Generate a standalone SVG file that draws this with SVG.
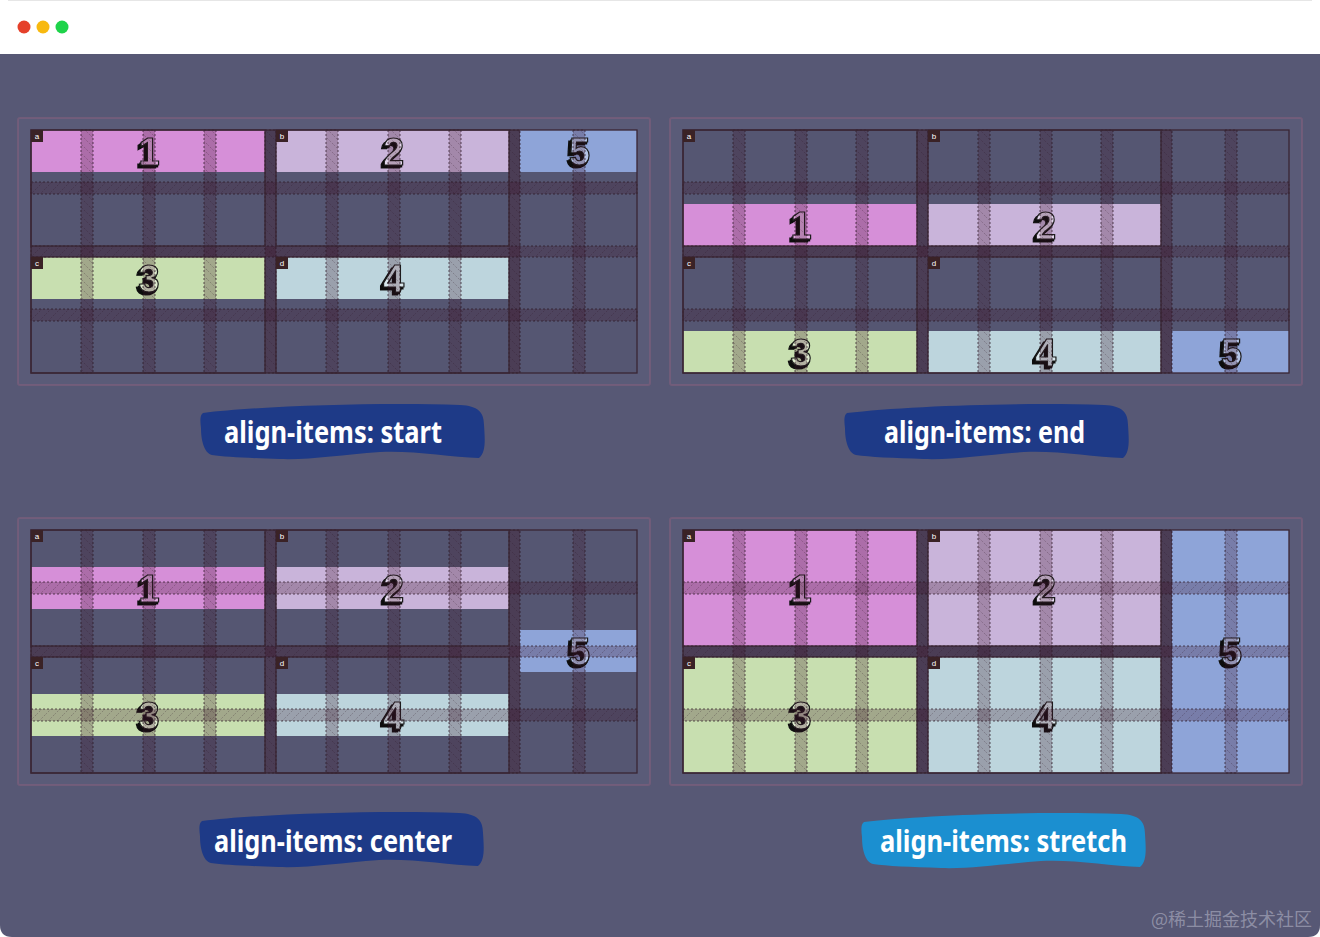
<svg xmlns="http://www.w3.org/2000/svg" xmlns:xlink="http://www.w3.org/1999/xlink" width="1320" height="937" viewBox="0 0 1320 937">
<style>
.cont{fill:#5a5b78;stroke:#8a5f7e;stroke-opacity:.5;stroke-width:2}
.gridbg{fill:#555672}
.vs{fill:url(#hv);stroke:#2a1620;stroke-opacity:.7;stroke-width:1;stroke-dasharray:2 2}
.hs{fill:url(#hh);stroke:#2a1620;stroke-opacity:.7;stroke-width:1;stroke-dasharray:2 2}
.agap{fill:#3c1c2c;fill-opacity:.16}
.area{fill:none;stroke:#3a2634;stroke-width:1.3}
.tag{fill:#3a2226}
.tagt{font-family:"Liberation Sans",Arial,sans-serif;font-size:8px;fill:#fff;text-anchor:middle}
.num{font-family:"Liberation Sans",Arial,sans-serif;font-weight:700;font-size:38px;text-anchor:middle;stroke:#1a1a1a;stroke-width:1.2;filter:url(#d3)}
.lbl{font-family:"Noto Sans",sans-serif;font-weight:700;font-size:31px;fill:#fff;text-anchor:middle}
.i1{fill:#d68fd8}.f1{fill:#e2abe3}
.i2{fill:#c9b4da}.f2{fill:#e2d6ec}
.i3{fill:#c8dfb0}.f3{fill:#dfeccf}
.i4{fill:#bdd5dd}.f4{fill:#d9e8ed}
.i5{fill:#8ea4d8}.f5{fill:#b4c3e6}
</style>
<defs>
<filter id="d3" x="-30%" y="-30%" width="160%" height="160%">
<feOffset in="SourceAlpha" dx="-1.5" dy="1.5" result="o1"/>
<feOffset in="SourceAlpha" dx="-3" dy="3" result="o2"/>
<feMerge result="m"><feMergeNode in="o2"/><feMergeNode in="o1"/></feMerge>
<feFlood flood-color="#0e0e0e"/>
<feComposite in2="m" operator="in" result="sh"/>
<feMerge><feMergeNode in="sh"/><feMergeNode in="SourceGraphic"/></feMerge>
</filter>
<pattern id="hv" patternUnits="userSpaceOnUse" width="9" height="9">
<rect width="9" height="9" fill="#3c1428" fill-opacity=".27"/>
<path d="M-2,-2 L11,11" stroke="#2a1020" stroke-opacity=".3" stroke-width="0.8" stroke-dasharray="2 1.5"/>
</pattern>
<pattern id="hh" patternUnits="userSpaceOnUse" width="9" height="9">
<rect width="9" height="9" fill="#3c1428" fill-opacity=".27"/>
<path d="M-2,11 L11,-2" stroke="#2a1020" stroke-opacity=".3" stroke-width="0.8" stroke-dasharray="2 1.5"/>
</pattern>
<path id="blob" d="M2,10 C59,3 179,-1 259,2 C277,3 283,9 283,22 C284,37 285,49 278,55 C249,54 209,47 179,49 C139,52 109,57 79,56 C49,55 24,54 11,52 C3,50 0,37 0,25 C-1,17 -1,12 2,10 Z"/>
<rect id="cont" class="cont" x="18" y="118" width="632" height="267" rx="2"/>
<rect id="gbg" class="gridbg" x="31" y="130" width="606" height="243"/>
<g id="ov">
<rect class="agap" x="265" y="130" width="11" height="243"/>
<rect class="agap" x="509" y="130" width="11" height="243"/>
<rect class="agap" x="31" y="246" width="478" height="11"/>
<rect class="vs" x="81" y="130" width="12" height="243"/>
<rect class="vs" x="143" y="130" width="12" height="243"/>
<rect class="vs" x="204" y="130" width="12" height="243"/>
<rect class="vs" x="265" y="130" width="11" height="243"/>
<rect class="vs" x="326" y="130" width="12" height="243"/>
<rect class="vs" x="388" y="130" width="12" height="243"/>
<rect class="vs" x="449" y="130" width="12" height="243"/>
<rect class="vs" x="509" y="130" width="11" height="243"/>
<rect class="vs" x="573" y="130" width="12" height="243"/>
<rect class="hs" x="31" y="182" width="606" height="12"/>
<rect class="hs" x="31" y="246" width="606" height="11"/>
<rect class="hs" x="31" y="309" width="606" height="12"/>
<rect class="area" x="31" y="130" width="606" height="243"/>
<rect class="area" x="31" y="130" width="234" height="116"/>
<rect class="area" x="276" y="130" width="233" height="116"/>
<rect class="area" x="31" y="257" width="234" height="116"/>
<rect class="area" x="276" y="257" width="233" height="116"/>
<rect class="tag" x="31" y="130" width="12" height="12"/><text class="tagt" x="37" y="139">a</text>
<rect class="tag" x="276" y="130" width="12" height="12"/><text class="tagt" x="282" y="139">b</text>
<rect class="tag" x="31" y="257" width="12" height="12"/><text class="tagt" x="37" y="266">c</text>
<rect class="tag" x="276" y="257" width="12" height="12"/><text class="tagt" x="282" y="266">d</text>
</g>
</defs>

<rect width="1320" height="937" fill="#ffffff"/>
<g id="window">
<path d="M0,54 H1320 V925 Q1320,937 1308,937 H12 Q0,937 0,925 Z" fill="#575875"/>
<line x1="8" y1="0.5" x2="1312" y2="0.5" stroke="#e6e6e6"/>
<circle cx="24" cy="27" r="6.5" fill="#e5402a"/>
<circle cx="43" cy="27" r="6.5" fill="#f8b90f"/>
<circle cx="62" cy="27" r="6.5" fill="#1ed34a"/>
</g>

<!-- Panel 1: start -->
<g id="panel-start">
<use href="#cont"/><use href="#gbg"/>
<g id="start-item1"><rect class="i1" x="31" y="130" width="234" height="42"/><text class="num f1" x="149" y="164.5">1</text></g>
<g id="start-item2"><rect class="i2" x="276" y="130" width="233" height="42"/><text class="num f2" x="393.5" y="164.5">2</text></g>
<g id="start-item5"><rect class="i5" x="520" y="130" width="117" height="42"/><text class="num f5" x="579.5" y="164.5">5</text></g>
<g id="start-item3"><rect class="i3" x="31" y="257" width="234" height="42"/><text class="num f3" x="149" y="291.5">3</text></g>
<g id="start-item4"><rect class="i4" x="276" y="257" width="233" height="42"/><text class="num f4" x="393.5" y="291.5">4</text></g>
<use href="#ov"/>
</g>

<!-- Panel 2: end -->
<g id="panel-end">
<g transform="translate(652,0)"><use href="#cont"/><use href="#gbg"/></g>
<g id="end-item1"><rect class="i1" x="683" y="204" width="234" height="42"/><text class="num f1" x="801" y="238.5">1</text></g>
<g id="end-item2"><rect class="i2" x="928" y="204" width="233" height="42"/><text class="num f2" x="1045.5" y="238.5">2</text></g>
<g id="end-item3"><rect class="i3" x="683" y="331" width="234" height="42"/><text class="num f3" x="801" y="365.5">3</text></g>
<g id="end-item4"><rect class="i4" x="928" y="331" width="233" height="42"/><text class="num f4" x="1045.5" y="365.5">4</text></g>
<g id="end-item5"><rect class="i5" x="1172" y="331" width="117" height="42"/><text class="num f5" x="1231.5" y="365.5">5</text></g>
<use href="#ov" transform="translate(652,0)"/>
</g>

<!-- Panel 3: center -->
<g id="panel-center">
<g transform="translate(0,400)"><use href="#cont"/><use href="#gbg"/></g>
<g id="center-item1"><rect class="i1" x="31" y="567" width="234" height="42"/><text class="num f1" x="149" y="601.5">1</text></g>
<g id="center-item2"><rect class="i2" x="276" y="567" width="233" height="42"/><text class="num f2" x="393.5" y="601.5">2</text></g>
<g id="center-item3"><rect class="i3" x="31" y="694" width="234" height="42"/><text class="num f3" x="149" y="728.5">3</text></g>
<g id="center-item4"><rect class="i4" x="276" y="694" width="233" height="42"/><text class="num f4" x="393.5" y="728.5">4</text></g>
<g id="center-item5"><rect class="i5" x="520" y="630" width="117" height="42"/><text class="num f5" x="579.5" y="665">5</text></g>
<use href="#ov" transform="translate(0,400)"/>
</g>

<!-- Panel 4: stretch -->
<g id="panel-stretch">
<g transform="translate(652,400)"><use href="#cont"/><use href="#gbg"/></g>
<g id="stretch-item1"><rect class="i1" x="683" y="530" width="234" height="116"/><text class="num f1" x="801" y="601.5">1</text></g>
<g id="stretch-item2"><rect class="i2" x="928" y="530" width="233" height="116"/><text class="num f2" x="1045.5" y="601.5">2</text></g>
<g id="stretch-item3"><rect class="i3" x="683" y="657" width="234" height="116"/><text class="num f3" x="801" y="728.5">3</text></g>
<g id="stretch-item4"><rect class="i4" x="928" y="657" width="233" height="116"/><text class="num f4" x="1045.5" y="728.5">4</text></g>
<g id="stretch-item5"><rect class="i5" x="1172" y="530" width="117" height="243"/><text class="num f5" x="1231.5" y="665">5</text></g>
<use href="#ov" transform="translate(652,400)"/>
</g>

<!-- Labels -->
<g id="label-start"><use href="#blob" transform="translate(201,403)" fill="#1e3a87"/><text class="lbl" x="333" y="443" textLength="218" lengthAdjust="spacingAndGlyphs">align-items: start</text></g>
<g id="label-end"><use href="#blob" transform="translate(845,403)" fill="#1e3a87"/><text class="lbl" x="984.5" y="443" textLength="201" lengthAdjust="spacingAndGlyphs">align-items: end</text></g>
<g id="label-center"><use href="#blob" transform="translate(200,811)" fill="#1e3a87"/><text class="lbl" x="333" y="852" textLength="238" lengthAdjust="spacingAndGlyphs">align-items: center</text></g>
<g id="label-stretch"><use href="#blob" transform="translate(862,812)" fill="#1b8fd0"/><text class="lbl" x="1003.5" y="852" textLength="247" lengthAdjust="spacingAndGlyphs">align-items: stretch</text></g>

<text x="1312" y="926" text-anchor="end" font-family="'Noto Sans CJK SC','Noto Sans',sans-serif" font-size="18" fill="#9c9db2" fill-opacity="0.8">@稀土掘金技术社区</text>
</svg>
